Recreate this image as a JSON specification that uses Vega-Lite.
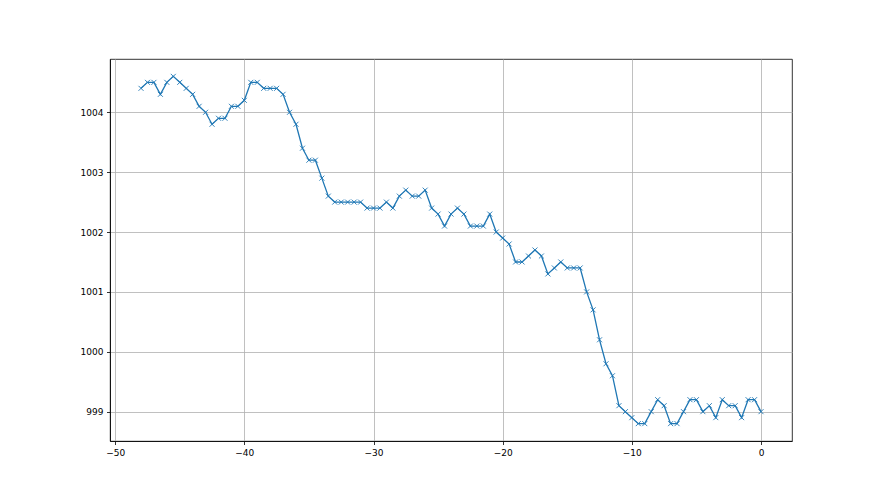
{
  "$schema": "https://vega.github.io/schema/vega-lite/v6.json",
  "autosize": {"type": "none"},
  "padding": {"left": 110, "top": 59, "right": 88, "bottom": 54},
  "width": 682,
  "height": 382,
  "background": "white",
  "view": {"stroke": "black", "strokeWidth": 0.8},
  "config": {
    "font": "DejaVu Sans",
    "axis": {
      "labelFont": "DejaVu Sans",
      "labelFontSize": 9,
      "labelColor": "black",
      "domainColor": "black",
      "domainWidth": 0.8,
      "tickColor": "black",
      "tickWidth": 0.8,
      "tickSize": 3.5,
      "labelPadding": 3.5,
      "gridColor": "#b0b0b0",
      "gridWidth": 0.8,
      "gridOpacity": 1,
      "title": null
    }
  },
  "data": {
    "values": [
      {"t": -48, "p": 1004.4}, {"t": -47.5, "p": 1004.5}, {"t": -47, "p": 1004.5}, {"t": -46.5, "p": 1004.3},
      {"t": -46, "p": 1004.5}, {"t": -45.5, "p": 1004.6}, {"t": -45, "p": 1004.5}, {"t": -44.5, "p": 1004.4},
      {"t": -44, "p": 1004.3}, {"t": -43.5, "p": 1004.1}, {"t": -43, "p": 1004.0}, {"t": -42.5, "p": 1003.8},
      {"t": -42, "p": 1003.9}, {"t": -41.5, "p": 1003.9}, {"t": -41, "p": 1004.1}, {"t": -40.5, "p": 1004.1},
      {"t": -40, "p": 1004.2}, {"t": -39.5, "p": 1004.5}, {"t": -39, "p": 1004.5}, {"t": -38.5, "p": 1004.4},
      {"t": -38, "p": 1004.4}, {"t": -37.5, "p": 1004.4}, {"t": -37, "p": 1004.3}, {"t": -36.5, "p": 1004.0},
      {"t": -36, "p": 1003.8}, {"t": -35.5, "p": 1003.4}, {"t": -35, "p": 1003.2}, {"t": -34.5, "p": 1003.2},
      {"t": -34, "p": 1002.9}, {"t": -33.5, "p": 1002.6}, {"t": -33, "p": 1002.5}, {"t": -32.5, "p": 1002.5},
      {"t": -32, "p": 1002.5}, {"t": -31.5, "p": 1002.5}, {"t": -31, "p": 1002.5}, {"t": -30.5, "p": 1002.4},
      {"t": -30, "p": 1002.4}, {"t": -29.5, "p": 1002.4}, {"t": -29, "p": 1002.5}, {"t": -28.5, "p": 1002.4},
      {"t": -28, "p": 1002.6}, {"t": -27.5, "p": 1002.7}, {"t": -27, "p": 1002.6}, {"t": -26.5, "p": 1002.6},
      {"t": -26, "p": 1002.7}, {"t": -25.5, "p": 1002.4}, {"t": -25, "p": 1002.3}, {"t": -24.5, "p": 1002.1},
      {"t": -24, "p": 1002.3}, {"t": -23.5, "p": 1002.4}, {"t": -23, "p": 1002.3}, {"t": -22.5, "p": 1002.1},
      {"t": -22, "p": 1002.1}, {"t": -21.5, "p": 1002.1}, {"t": -21, "p": 1002.3}, {"t": -20.5, "p": 1002.0},
      {"t": -20, "p": 1001.9}, {"t": -19.5, "p": 1001.8}, {"t": -19, "p": 1001.5}, {"t": -18.5, "p": 1001.5},
      {"t": -18, "p": 1001.6}, {"t": -17.5, "p": 1001.7}, {"t": -17, "p": 1001.6}, {"t": -16.5, "p": 1001.3},
      {"t": -16, "p": 1001.4}, {"t": -15.5, "p": 1001.5}, {"t": -15, "p": 1001.4}, {"t": -14.5, "p": 1001.4},
      {"t": -14, "p": 1001.4}, {"t": -13.5, "p": 1001.0}, {"t": -13, "p": 1000.7}, {"t": -12.5, "p": 1000.2},
      {"t": -12, "p": 999.8}, {"t": -11.5, "p": 999.6}, {"t": -11, "p": 999.1}, {"t": -10.5, "p": 999.0},
      {"t": -10, "p": 998.9}, {"t": -9.5, "p": 998.8}, {"t": -9, "p": 998.8}, {"t": -8.5, "p": 999.0},
      {"t": -8, "p": 999.2}, {"t": -7.5, "p": 999.1}, {"t": -7, "p": 998.8}, {"t": -6.5, "p": 998.8},
      {"t": -6, "p": 999.0}, {"t": -5.5, "p": 999.2}, {"t": -5, "p": 999.2}, {"t": -4.5, "p": 999.0},
      {"t": -4, "p": 999.1}, {"t": -3.5, "p": 998.9}, {"t": -3, "p": 999.2}, {"t": -2.5, "p": 999.1},
      {"t": -2, "p": 999.1}, {"t": -1.5, "p": 998.9}, {"t": -1, "p": 999.2}, {"t": -0.5, "p": 999.2},
      {"t": 0, "p": 999.0}
    ]
  },
  "encoding": {
    "x": {
      "field": "t", "type": "quantitative",
      "scale": {"domain": [-50.4, 2.4], "nice": false, "zero": false},
      "axis": {"values": [-50, -40, -30, -20, -10, 0], "format": "d", "grid": true}
    },
    "y": {
      "field": "p", "type": "quantitative",
      "scale": {"domain": [998.51, 1004.89], "nice": false, "zero": false},
      "axis": {"values": [999, 1000, 1001, 1002, 1003, 1004], "format": "d", "grid": true}
    }
  },
  "layer": [
    {"mark": {"type": "line", "color": "#1f77b4", "strokeWidth": 1.3}},
    {"mark": {"type": "point", "shape": "M-1,-1L1,1M-1,1L1,-1", "filled": false, "color": "#1f77b4", "strokeWidth": 0.9, "size": 25, "opacity": 1}}
  ]
}
